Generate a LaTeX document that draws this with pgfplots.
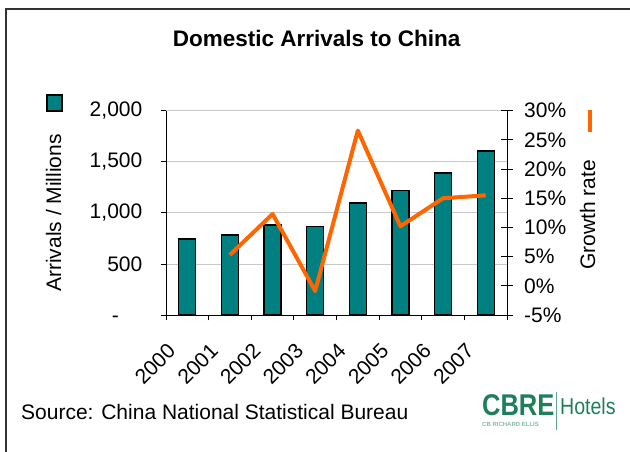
\documentclass[border=0pt]{standalone}
\usepackage{pgfplots}
\pgfplotsset{compat=1.18}
\usepackage{fontspec}
\setmainfont{Liberation Sans}

\definecolor{barteal}{HTML}{008080}
\definecolor{lineorange}{HTML}{FF6600}
\definecolor{cbgreen}{HTML}{1E7F5A}
\definecolor{gridgray}{HTML}{C8C8C8}

\newcommand\chartfont{\fontsize{21}{25}\selectfont}

\begin{document}
\begin{tikzpicture}[x=1pt,y=1pt]
\useasboundingbox (0,0) rectangle (630,452);

% outer frame
\draw[line width=2pt, black!80] (6,0) -- (6,443) -- (630,443);

% arrivals (bars, left axis)
\begin{axis}[
  at={(166pt,137pt)}, anchor=south west,
  scale only axis, width=341pt, height=204.3pt,
  xmin=-0.5, xmax=7.5, ymin=0, ymax=2000,
  axis x line*=bottom, axis y line*=left,
  axis line style={black, line width=0.8pt},
  tick style={black, line width=0.8pt},
  tick align=outside,
  major tick length=5.5pt, minor tick length=5.5pt,
  xtick={0,...,7},
  xticklabels={2000,2001,2002,2003,2004,2005,2006,2007},
  minor xtick={-0.5,0.5,...,7.5},
  major x tick style={draw=none},
  xticklabel style={xshift=-21pt, yshift=-21.5pt, rotate=45, anchor=north east, inner sep=0pt},
  ytick={0,500,1000,1500,2000},
  yticklabels={{-\phantom{00}},500,{1,000},{1,500},{2,000}},
  yticklabel style={anchor=east, inner sep=0pt, xshift=-18pt},
  ymajorgrids, grid style={gridgray, line width=0.8pt},
  ticklabel style={font=\chartfont},
  /pgf/number format/assume math mode=true,
  clip=false,
]
\addplot[ybar, bar width=17pt, fill=barteal, draw=black, line width=1.3pt]
  coordinates {(0,745) (1,783) (2,881) (3,866) (4,1097) (5,1217) (6,1390) (7,1606)};
\end{axis}

% growth rate (line, right axis)
\begin{axis}[
  at={(166pt,137pt)}, anchor=south west,
  scale only axis, width=341pt, height=204.3pt,
  xmin=-0.5, xmax=7.5, ymin=-5, ymax=30,
  axis x line=none, axis y line*=right,
  axis line style={black, line width=0.8pt},
  tick style={black, line width=0.8pt},
  tick align=center, major tick length=12pt,
  ytick={-5,0,...,30},
  yticklabels={-5\%,0\%,5\%,10\%,15\%,20\%,25\%,30\%},
  yticklabel style={anchor=west, inner sep=0pt, xshift=11pt, font=\chartfont},
  /pgf/number format/assume math mode=true,
  clip=false,
]
\addplot[lineorange, line width=4pt, line join=round]
  coordinates {(1,5.3) (2,12.3) (3,-0.9) (4,26.6) (5,10.2) (6,15.0) (7,15.5)};
\end{axis}

% titles and axis names
\node[anchor=base, font=\bfseries\fontsize{22.5}{27}\selectfont] at (316.7,405.3) {Domestic Arrivals to China};
\node[rotate=90, font=\chartfont] at (53.5,239) {Arrivals / Millions};
\node[rotate=90, font=\chartfont] at (587.5,237) {Growth rate};

% legend keys
\filldraw[fill=barteal, draw=black, line width=1.3pt] (47,341) rectangle (62,357);
\draw[lineorange, line width=4pt] (590,342) -- (590,320);

% source note
\node[anchor=base west, inner sep=0pt, font=\chartfont] at (21,32) {Source: China National Statistical Bureau};

% logo
\node[anchor=base west, inner sep=0pt, xscale=0.85, text=cbgreen, font=\bfseries\fontsize{30}{30}\selectfont] at (482,36) {CBRE};
\draw[cbgreen!70, line width=1pt] (556.5,60) -- (556.5,22);
\node[anchor=base west, inner sep=0pt, xscale=0.85, text=cbgreen, font=\fontsize{23}{23}\selectfont] at (560,37) {Hotels};
\node[anchor=west, inner sep=0pt, text=cbgreen!55, font=\bfseries\fontsize{6}{6}\selectfont] at (482,28) {CB RICHARD ELLIS};
\end{tikzpicture}
\end{document}
